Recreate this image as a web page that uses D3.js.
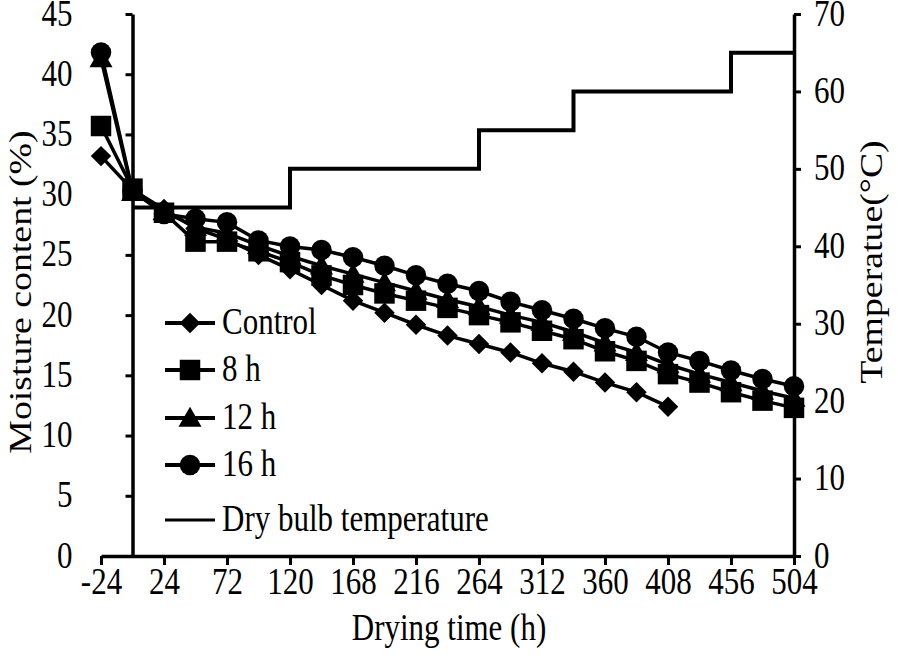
<!DOCTYPE html>
<html>
<head>
<meta charset="utf-8">
<script src="https://cdn.jsdelivr.net/npm/d3@7"></script>
<style>
body { margin: 0; background: #fff; }
text { font-family: "Liberation Serif", "Times New Roman", serif; fill: #000; }
</style>
</head>
<body>
<svg id="chart" width="898" height="659"></svg>
<script>
// drying time (h)
const hours = [-24, 0, 24, 48, 72, 96, 120, 144, 168, 192, 216, 240, 264, 288, 312, 336, 360, 384, 408, 432, 456, 480, 504];
// moisture content (%)
const control = [33.2, 30.4, 28.8, 27.2, 26.3, 25.0, 23.8, 22.5, 21.2, 20.2, 19.2, 18.3, 17.6, 16.9, 16.0, 15.3, 14.4, 13.6, 12.4];
const h8  = [35.7, 30.5, 28.5, 26.1, 26.1, 25.3, 24.4, 23.3, 22.5, 21.8, 21.2, 20.6, 20.0, 19.4, 18.7, 18.0, 17.0, 16.2, 15.1, 14.4, 13.6, 12.9, 12.3];
const h12 = [41.3, 30.2, 28.6, 27.3, 26.8, 25.8, 24.9, 24.1, 23.4, 22.7, 22.0, 21.3, 20.7, 20.0, 19.4, 18.6, 17.7, 16.9, 15.9, 15.1, 14.4, 13.7, 13.1];
const h16 = [41.8, 30.3, 28.4, 28.0, 27.7, 26.2, 25.7, 25.4, 24.8, 24.1, 23.3, 22.6, 22.0, 21.1, 20.4, 19.7, 18.9, 18.2, 16.9, 16.2, 15.4, 14.7, 14.1];
// dry bulb temperature steps (°C)
const tempHours = [0, 120, 264, 336, 456, 504];
const tempValues = [45, 50, 55, 60, 65, 65];

const xTicks = [-24, 24, 72, 120, 168, 216, 264, 312, 360, 408, 456, 504];
const yLeftTicks = [0, 5, 10, 15, 20, 25, 30, 35, 40, 45];
const yRightTicks = [0, 10, 20, 30, 40, 50, 60, 70];

const series = [
  { name: "Control", values: control, symbol: "diamond" },
  { name: "8 h", values: h8, symbol: "square" },
  { name: "12 h", values: h12, symbol: "triangle" },
  { name: "16 h", values: h16, symbol: "circle" }
];

const fs = 31, sy = 1.22;
const svg = d3.select("#chart");

const x = d3.scaleLinear().domain([-24, 504]).range([101, 794]);
const yL = d3.scaleLinear().domain([0, 45]).range([556, 14]);
const yR = d3.scaleLinear().domain([0, 70]).range([556, 14]);

function symbolPath(type) {
  if (type === "diamond") return d3.symbol(d3.symbolSquare, 210)();
  if (type === "square") return d3.symbol(d3.symbolSquare, 420)();
  if (type === "triangle") return d3.symbol(d3.symbolTriangle, 230)();
  return d3.symbol(d3.symbolCircle, 330)();
}
function symbolTransform(type, px, py) {
  if (type === "diamond") return `translate(${px},${py}) rotate(45)`;
  if (type === "triangle") return `translate(${px},${py + 2})`;
  return `translate(${px},${py})`;
}

function styleAxis(g) {
  g.select(".domain").attr("stroke", "#000").attr("stroke-width", 3.5);
  g.selectAll(".tick line").attr("stroke", "#000").attr("stroke-width", 3);
  g.selectAll(".tick text").attr("font-size", fs).attr("fill", "#000");
}

// x axis
const gx = svg.append("g").attr("transform", `translate(0,${yL(0)})`)
  .call(d3.axisBottom(x).tickValues(xTicks).tickSize(9).tickSizeOuter(0).tickFormat(d => String(d)));
styleAxis(gx);
gx.selectAll(".tick text").attr("dy", 0).attr("y", 0)
  .attr("transform", `translate(0,${38}) scale(1,${sy})`);

// left axis (crosses at 0 h)
const gl = svg.append("g").attr("transform", `translate(${x(0)},0)`)
  .call(d3.axisLeft(yL).tickValues(yLeftTicks).tickSize(7).tickSizeOuter(0));
styleAxis(gl);
gl.selectAll(".tick text").attr("x", 0).attr("dy", 0)
  .attr("transform", `translate(-60,${11}) scale(1,${sy})`);

// right axis
const gr = svg.append("g").attr("transform", `translate(${x(504)},0)`)
  .call(d3.axisRight(yR).tickValues(yRightTicks).tickSize(7).tickSizeOuter(0));
styleAxis(gr);
gr.selectAll(".tick text").attr("x", 0).attr("dy", 0)
  .attr("transform", `translate(20,${11}) scale(1,${sy})`);

// axis titles
svg.append("text").attr("text-anchor", "middle").attr("font-size", fs)
  .attr("transform", `translate(449,640) scale(1,${sy})`).text("Drying time (h)");
svg.append("text").attr("text-anchor", "middle").attr("font-size", fs)
  .attr("transform", `translate(31,292) scale(1,${sy}) rotate(-90)`).text("Moisture content (%)");
svg.append("text").attr("text-anchor", "middle").attr("font-size", fs)
  .attr("transform", `translate(882,262) scale(1,${sy}) rotate(-90)`).text("Temperatue(\u00b0C)");

// temperature line
const tempLine = d3.line().x((d, i) => x(tempHours[i])).y(d => yR(d)).curve(d3.curveStepAfter);
svg.append("path").datum(tempValues).attr("d", tempLine)
  .attr("fill", "none").attr("stroke", "#000").attr("stroke-width", 4);

// moisture series
const line = d3.line().x((d, i) => x(hours[i])).y(d => yL(d));
series.forEach(s => {
  svg.append("path").datum(s.values).attr("d", line)
    .attr("fill", "none").attr("stroke", "#000").attr("stroke-width", 3.5);
  svg.append("g").selectAll("path").data(s.values).join("path")
    .attr("d", symbolPath(s.symbol))
    .attr("transform", (d, i) => symbolTransform(s.symbol, x(hours[i]), yL(d)))
    .attr("fill", "#000");
});

// legend
const legend = svg.append("g");
const legendRows = [323, 370, 418, 465];
series.forEach((s, i) => {
  const ly = legendRows[i];
  legend.append("line").attr("x1", 165).attr("x2", 215).attr("y1", ly).attr("y2", ly)
    .attr("stroke", "#000").attr("stroke-width", 4);
  legend.append("path").attr("d", symbolPath(s.symbol))
    .attr("transform", symbolTransform(s.symbol, 190, ly)).attr("fill", "#000");
  legend.append("text").attr("font-size", fs)
    .attr("transform", `translate(222,${ly + 11}) scale(1,${sy})`).text(s.name);
});
legend.append("line").attr("x1", 165).attr("x2", 215).attr("y1", 520).attr("y2", 520)
  .attr("stroke", "#000").attr("stroke-width", 3);
legend.append("text").attr("font-size", fs)
  .attr("transform", `translate(222,531) scale(1,${sy})`).text("Dry bulb temperature");
</script>
</body>
</html>
